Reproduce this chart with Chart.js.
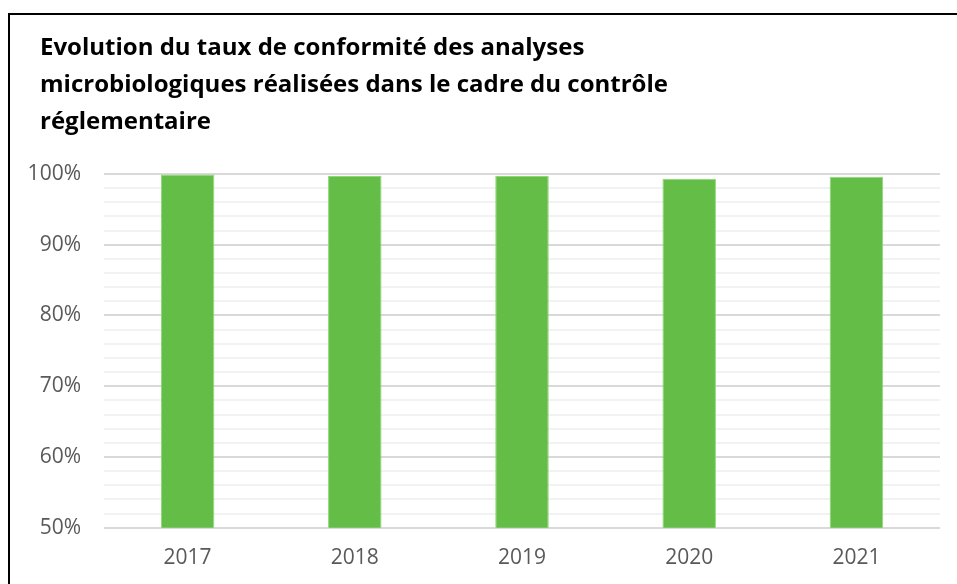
<!DOCTYPE html>
<html>
<head>
<meta charset="utf-8">
<script src="https://cdn.jsdelivr.net/npm/chart.js@4"></script>
<style>
  html, body { margin: 0; padding: 0; background: #fff; }
  #wrap { position: relative; width: 957px; height: 584px; overflow: hidden; }
  #frame { position: absolute; left: 8px; top: 13px; width: 1000px; height: 700px;
           border-left: 2px solid #000; border-top: 2px solid #000; }
  #c { position: absolute; left: 0; top: 0; }
</style>
</head>
<body>
<div id="wrap">
  <div id="frame"></div>
  <canvas id="c" width="957" height="584"></canvas>
</div>
<script>
// Taux de conformité (%) par année
const years = ['2017', '2018', '2019', '2020', '2021'];
const tauxConformite = [99.9, 99.7, 99.7, 99.3, 99.6];
const titleLines = [
  'Evolution du taux de conformité des analyses',
  'microbiologiques réalisées dans le cadre du contrôle',
  'réglementaire'
];

const FONT = '"Open Sans", "DejaVu Sans", sans-serif';

// the title starts further right than the y axis labels
const titleIndent = {
  id: 'titleIndent',
  afterLayout(chart) {
    if (chart.titleBlock) chart.titleBlock.left = 40;
  }
};

new Chart(document.getElementById('c'), {
  type: 'bar',
  data: {
    labels: years,
    datasets: [{
      data: tauxConformite,
      backgroundColor: '#64bd47',
      borderColor: '#8ed678',
      borderWidth: 1,
      barPercentage: 0.32,
      categoryPercentage: 1
    }]
  },
  plugins: [titleIndent],
  options: {
    responsive: false,
    animation: false,
    layout: { padding: { left: 12, right: 17, top: 30, bottom: -5 } },
    plugins: {
      legend: { display: false },
      tooltip: { enabled: false },
      title: {
        display: true,
        text: titleLines,
        align: 'start',
        color: '#000',
        font: { family: FONT, size: 24, weight: 'bold', lineHeight: 1.54 },
        padding: { top: 0, bottom: 33 }
      }
    },
    scales: {
      x: {
        grid: { display: false, drawTicks: false },
        border: { display: false },
        ticks: { color: '#595959', font: { family: FONT, size: 21 }, padding: 18 }
      },
      y: {
        min: 50,
        max: 100,
        afterFit: (scale) => { scale.width = 92; },
        border: { display: false },
        grid: {
          drawTicks: false,
          lineWidth: 2,
          color: (ctx) => (ctx.tick && ctx.tick.value % 10 === 0) ? '#d9d9d9' : '#f2f2f2'
        },
        ticks: {
          stepSize: 2,
          autoSkip: false,
          padding: 23,
          color: '#595959',
          font: { family: FONT, size: 21 },
          callback: (v) => (v % 10 === 0 ? v + '%' : '')
        }
      }
    }
  }
});
</script>
</body>
</html>
